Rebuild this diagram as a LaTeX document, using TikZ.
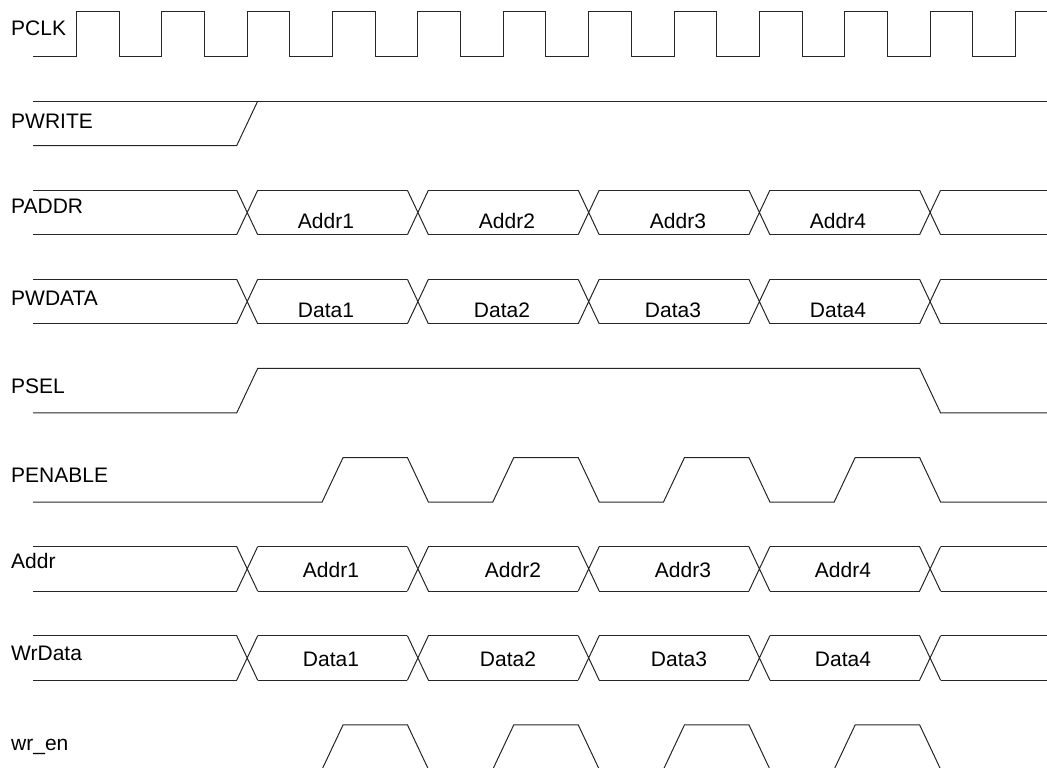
\documentclass[tikz,border=0pt]{standalone}
\usepackage{fontspec}
\setmainfont{Liberation Sans}

\begin{document}
\begin{tikzpicture}[
    x=1pt, y=-1pt,
    wave/.style={line width=1pt, black!85},
    signame/.style={anchor=base west, inner sep=0pt, font=\fontsize{21}{25}\selectfont},
    busval/.style={anchor=base, inner sep=0pt, font=\fontsize{21}{25}\selectfont},
]
\useasboundingbox (0,0) rectangle (1047,768);

% signal names
\node[signame] (pclk) at (11,36) {PCLK};
\node[signame] (pwrite) at (11,128) {PWRITE};
\node[signame] (paddr) at (11,213) {PADDR};
\node[signame] (pwdata) at (11,305) {PWDATA};
\node[signame] (psel) at (11,393) {PSEL};
\node[signame] (penable) at (11,482) {PENABLE};
\node[signame] (addr) at (11,568) {Addr};
\node[signame] (wrdata) at (11,660) {WrData};
\node[signame] (wren) at (11,750) {wr\_en};

% PCLK
\draw[wave] (33,56.5) foreach \k in {0,...,10} {
    -- (76.5+85.36*\k,56.5) -- (76.5+85.36*\k,12)
    -- (119.18+85.36*\k,12) -- (119.18+85.36*\k,56.5)}
    -- (1015.46,56.5) -- (1015.46,12) -- (1047,12);

% PWRITE
\draw[wave] (33,101.1) -- (1047,101.1);
\draw[wave] (33,145.6) -- (236.7,145.6) -- (257.7,101.1);

% buses: PADDR, PWDATA, Addr, WrData
\foreach \hi/\lo in {190.2/234.7, 279.3/323.8, 546.6/591.1, 635.7/680.2} {
    \foreach \c in {247.2,417.9,588.7,759.4,930.1}
        \draw[wave] (\c-10.5,\hi) -- (\c+10.5,\lo) (\c-10.5,\lo) -- (\c+10.5,\hi);
    \foreach \a/\b in {33/236.7, 257.7/407.4, 428.4/578.2, 599.2/748.9, 769.9/919.6, 940.6/1047}
        \draw[wave] (\a,\hi) -- (\b,\hi) (\a,\lo) -- (\b,\lo);
}

% bus values
\foreach \x/\n in {326/1, 507/2, 678/3, 838/4}
    \node[busval] (paddr\n) at (\x,228) {Addr\n};
\foreach \x/\n in {326/1, 502/2, 673/3, 838/4}
    \node[busval] (pwdata\n) at (\x,317) {Data\n};
\foreach \x/\n in {331/1, 513/2, 683/3, 843/4}
    \node[busval] (addr\n) at (\x,577) {Addr\n};
\foreach \x/\n in {331/1, 508/2, 679/3, 843/4}
    \node[busval] (wrdata\n) at (\x,666) {Data\n};

% PSEL
\draw[wave] (33,412.9) -- (236.7,412.9) -- (257.7,368.4) -- (919.6,368.4)
    -- (940.6,412.9) -- (1047,412.9);

% PENABLE and wr_en
\foreach \hi/\lo in {457.5/502, 724.8/769.3}
    \draw[wave] (33,\lo) foreach \r/\f in {332.6/417.9, 503.3/588.7, 674/759.4, 844.7/930.1} {
        -- (\r-10.5,\lo) -- (\r+10.5,\hi) -- (\f-10.5,\hi) -- (\f+10.5,\lo)}
        -- (1047,\lo);
\end{tikzpicture}
\end{document}
